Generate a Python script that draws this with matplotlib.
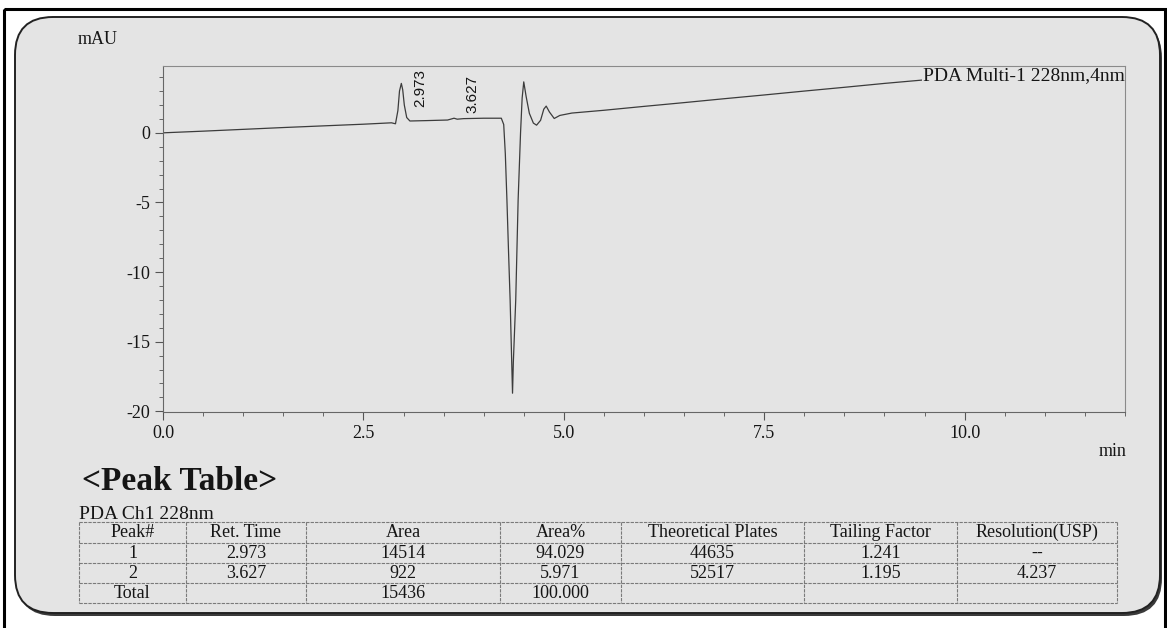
import numpy as np
import matplotlib
matplotlib.use('Agg')
import matplotlib.pyplot as plt
from matplotlib.patches import FancyBboxPatch, Rectangle
from matplotlib.ticker import MultipleLocator

#%% chromatogram trace (min, mAU)

time_min = [0.00, 0.50, 1.00, 1.50, 2.00, 2.50, 2.85, 2.90, 2.93, 2.95, 2.973,
            2.99, 3.01, 3.04, 3.08, 3.30, 3.55, 3.60, 3.63, 3.67, 3.75, 4.00,
            4.22, 4.25, 4.27, 4.29, 4.31, 4.33, 4.35, 4.36, 4.37, 4.40, 4.43,
            4.46, 4.48, 4.50, 4.53, 4.57, 4.62, 4.66, 4.71, 4.75, 4.78, 4.82,
            4.88, 4.95, 5.10, 5.50, 6.00, 6.50, 7.00, 7.50, 8.00, 8.50, 9.00,
            9.55, 10.0, 11.0, 12.0]
signal_mau = [0.00, 0.12, 0.25, 0.38, 0.50, 0.62, 0.72, 0.65, 1.60, 3.00, 3.55,
              3.10, 2.00, 1.10, 0.85, 0.88, 0.92, 1.00, 1.05, 0.98, 1.02, 1.05,
              1.05, 0.60, -1.50, -4.80, -8.50, -12.0, -16.5, -18.7, -16.5, -12.0, -4.80,
              0.00, 2.50, 3.66, 2.60, 1.40, 0.70, 0.55, 0.90, 1.70, 1.92, 1.50,
              1.03, 1.25, 1.42, 1.62, 1.90, 2.17, 2.45, 2.72, 3.00, 3.27, 3.55,
              3.83, 4.00, 4.20, 4.35]

peak_labels = ['2.973', '3.627']
peak_rt = [2.973, 3.627]

#%% peak table

table_header = ['Peak#', 'Ret. Time', 'Area', 'Area%', 'Theoretical Plates',
                'Tailing Factor', 'Resolution(USP)']
peak_no = ['1', '2', 'Total']
ret_time = ['2.973', '3.627', '']
area = ['14514', '922', '15436']
area_pct = ['94.029', '5.971', '100.000']
plates = ['44635', '52517', '']
tailing = ['1.241', '1.195', '']
resolution = ['--', '4.237', '']

serif = 'Liberation Serif'
sans = 'Liberation Sans'
ink = '#151515'
paper = '#e4e4e4'

W, H = 1167, 628
fig = plt.figure(figsize=(W / 100, H / 100), dpi=100)
fig.patch.set_facecolor('white')

# background layer in pixel units
bg = fig.add_axes([0, 0, 1, 1], zorder=0)
bg.set_xlim(0, W)
bg.set_ylim(H, 0)
bg.axis('off')

bg.add_patch(Rectangle((4, 9), 1161, 640, fill=False, ec='black', lw=2.2))
bg.add_patch(FancyBboxPatch((17, 20), 1145, 596, boxstyle='round,pad=0,rounding_size=38',
                            fc='#3a3a3a', ec='none'))
bg.add_patch(FancyBboxPatch((15, 17), 1145, 596, boxstyle='round,pad=0,rounding_size=38',
                            fc=paper, ec='#222222', lw=1.4))

#%% chromatogram axes
ax = fig.add_axes([163 / W, (H - 412) / H, 962 / W, 346 / H], zorder=1)
ax.set_facecolor('none')
ax.plot(time_min, signal_mau, color='#3c3c3c', lw=0.9, zorder=2)
ax.set_xlim(0, 12.0)
ax.set_ylim(-20.05, 4.8)

ax.set_xticks([0, 2.5, 5.0, 7.5, 10.0])
ax.set_xticklabels(['0.0', '2.5', '5.0', '7.5', '10.0'])
ax.xaxis.set_minor_locator(MultipleLocator(0.5))
ax.set_yticks([-20, -15, -10, -5, 0])
ax.set_yticklabels(['-20', '-15', '-10', '-5', '0'])
ax.yaxis.set_minor_locator(MultipleLocator(1))
ax.tick_params(which='major', direction='out', length=6, width=0.8, color='#555555',
               labelsize=13, pad=3, labelcolor=ink)
ax.tick_params(which='minor', direction='out', length=3, width=0.7, color='#666666')
for lab in ax.get_xticklabels() + ax.get_yticklabels():
    lab.set_fontfamily(serif)

for s in ['left', 'bottom']:
    ax.spines[s].set_color('#666666')
    ax.spines[s].set_linewidth(0.8)
for s in ['top', 'right']:
    ax.spines[s].set_color('#8a8a8a')
    ax.spines[s].set_linewidth(0.8)
    ax.spines[s].set_linestyle((0, (4, 1)))
for s in ax.spines.values():
    s.set_zorder(3)

label_y = [1.85, 1.42]
for lab, rt, yb in zip(peak_labels, peak_rt, label_y):
    ax.text(rt + 0.23, yb, lab, rotation=90, ha='center', va='bottom',
            fontsize=11, family=sans, color=ink)

# channel label sits over the trace, like the print
ax.text(0.9995, 0.972, 'PDA Multi-1 228nm,4nm', transform=ax.transAxes, fontsize=14,
        family=serif, va='center', ha='right', color=ink, zorder=2.2,
        bbox=dict(boxstyle='square,pad=0.02', fc=paper, ec='none'))

bg.text(78, 40, 'mAU', fontsize=13, family=serif, va='center', ha='left', color=ink)
bg.text(1127, 452, 'min', fontsize=13, family=serif, va='center', ha='right', color=ink)

#%% peak table
bg.text(82, 490, '<Peak Table>', fontsize=24, family=serif, weight='bold',
        va='baseline', ha='left', color=ink)
bg.text(79, 519, 'PDA Ch1 228nm', fontsize=14, family=serif, va='baseline',
        ha='left', color=ink)

col_x = [79, 186, 306, 500, 621, 804, 957, 1117]
row_y = [522, 542.5, 562.5, 583, 603]
grid = '#7a7a7a'
for x in col_x:
    bg.plot([x, x], [row_y[0], row_y[-1]], color=grid, lw=0.8, ls=(0, (3, 1)))
for y in row_y:
    bg.plot([col_x[0], col_x[-1]], [y, y], color=grid, lw=0.8, ls=(0, (3, 1)))

rows = [table_header] + [list(r) for r in zip(peak_no, ret_time, area, area_pct,
                                                plates, tailing, resolution)]
for i, row in enumerate(rows):
    yc = (row_y[i] + row_y[i + 1]) / 2
    for j, cell in enumerate(row):
        xc = (col_x[j] + col_x[j + 1]) / 2
        bg.text(xc, yc + 0.5, cell, fontsize=13, family=serif, ha='center',
                va='center', color=ink)

fig.savefig('out.png', dpi=100)
